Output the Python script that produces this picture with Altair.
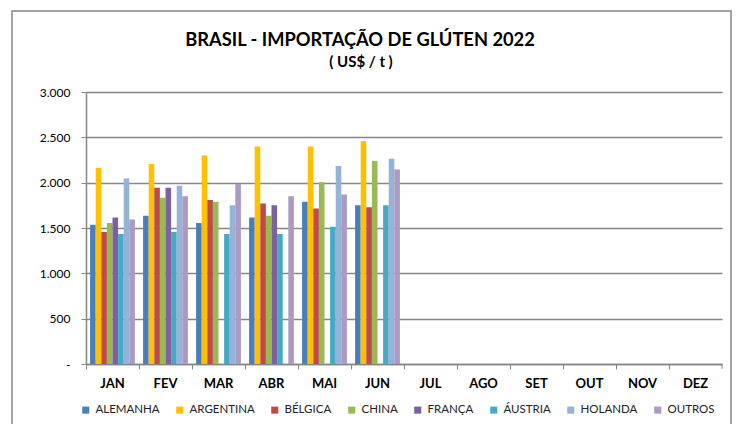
import altair as alt
import pandas as pd

months = ["JAN", "FEV", "MAR", "ABR", "MAI", "JUN", "JUL", "AGO", "SET", "OUT", "NOV", "DEZ"]
countries = ["ALEMANHA", "ARGENTINA", "BÉLGICA", "CHINA", "FRANÇA", "ÁUSTRIA", "HOLANDA", "OUTROS"]
colors = ["#4A7EBB", "#FFC000", "#BE4B48", "#98B954", "#7D60A0", "#46AAC5", "#94B3D6", "#AB9AC5"]

# values per month (JAN..JUN), None = no bar
alemanha = [1535, 1635, 1555, 1615, 1790, 1750]
argentina = [2165, 2205, 2300, 2400, 2400, 2460]
belgica = [1455, 1945, 1810, 1770, 1715, 1730]
china = [1555, 1835, 1790, 1635, 2005, 2240]
franca = [1615, 1945, None, 1750, None, None]
austria = [1435, 1455, 1435, 1435, 1515, 1750]
holanda = [2045, 1965, 1750, None, 2185, 2265]
outros = [1595, 1850, 1985, 1850, 1870, 2145]

title_text = "BRASIL - IMPORTAÇÃO  DE GLÚTEN 2022"
subtitle_text = "( US$ / t )"

series = [alemanha, argentina, belgica, china, franca, austria, holanda, outros]
rows = []
for c, vals in zip(countries, series):
    for m, v in zip(months, vals):
        if v is not None:
            rows.append({"mes": m, "pais": c, "valor": v})
df = pd.DataFrame(rows)

W, H = 636, 272
FONT = "Lato"

bars = alt.Chart(df).mark_bar().encode(
    x=alt.X("mes:N", scale=alt.Scale(domain=months, paddingInner=0, paddingOuter=0),
            axis=alt.Axis(title=None, bandPosition=0, labelAngle=0, labelFont=FONT,
                          labelFontSize=13, labelFontWeight="bold", labelColor="#000000",
                          labelPadding=8, tickSize=5, tickColor="#868686", domainColor="#868686",
                          domainWidth=1.5, tickWidth=1, grid=False, labelBound=False)),
    xOffset=alt.XOffset("pais:N", scale=alt.Scale(domain=countries, paddingInner=0, paddingOuter=0.73)),
    y=alt.Y("valor:Q", scale=alt.Scale(domain=[0, 3000], nice=False),
            axis=alt.Axis(title=None, values=[0, 500, 1000, 1500, 2000, 2500, 3000],
                          labelExpr="datum.value == 0 ? '-' : replace(format(datum.value, ','), ',', '.')",
                          labelFont=FONT, labelFontSize=12, labelColor="#000000", labelPadding=11,
                          tickSize=5, tickColor="#868686", domainColor="#868686", domainWidth=1.5,
                          gridColor="#868686", gridWidth=1.5)),
    color=alt.Color("pais:N", scale=alt.Scale(domain=countries, range=colors),
                    legend=alt.Legend(title=None, orient="none", direction="horizontal",
                                      legendX=-6, legendY=312, symbolType="square", symbolSize=50,
                                      symbolStrokeWidth=0, labelFont=FONT, labelFontSize=11.5,
                                      labelColor="#222222", columnPadding=14, labelOffset=4)),
)

one = pd.DataFrame({"k": [0]})
frame = alt.Chart(one).mark_rect(fill=None, stroke="#868686", strokeWidth=1.5, clip=False).encode(
    x=alt.value(-74), x2=alt.value(645), y=alt.value(-81), y2=alt.value(360)
)
end_tick = alt.Chart(one).mark_rule(color="#868686").encode(
    x=alt.value(W), y=alt.value(H), y2=alt.value(H + 5)
)
title = alt.Chart(pd.DataFrame({"t": [title_text]})).mark_text(
    font=FONT, fontSize=18.3, fontWeight="bold", color="#000000", align="center", baseline="alphabetic"
).encode(text="t:N", x=alt.value(274), y=alt.value(-46))
subtitle = alt.Chart(pd.DataFrame({"t": [subtitle_text]})).mark_text(
    font=FONT, fontSize=15, fontWeight="bold", color="#000000", align="center", baseline="alphabetic"
).encode(text="t:N", x=alt.value(275), y=alt.value(-25))

chart = alt.layer(frame, bars, end_tick, title, subtitle).properties(
    width=W, height=H,
    autosize=alt.AutoSizeParams(type="none"),
    padding={"left": 78, "top": 84, "right": 10, "bottom": 60},
).configure_view(stroke=None)

chart.save("out.html", embed_options={"renderer": "svg", "actions": False})
